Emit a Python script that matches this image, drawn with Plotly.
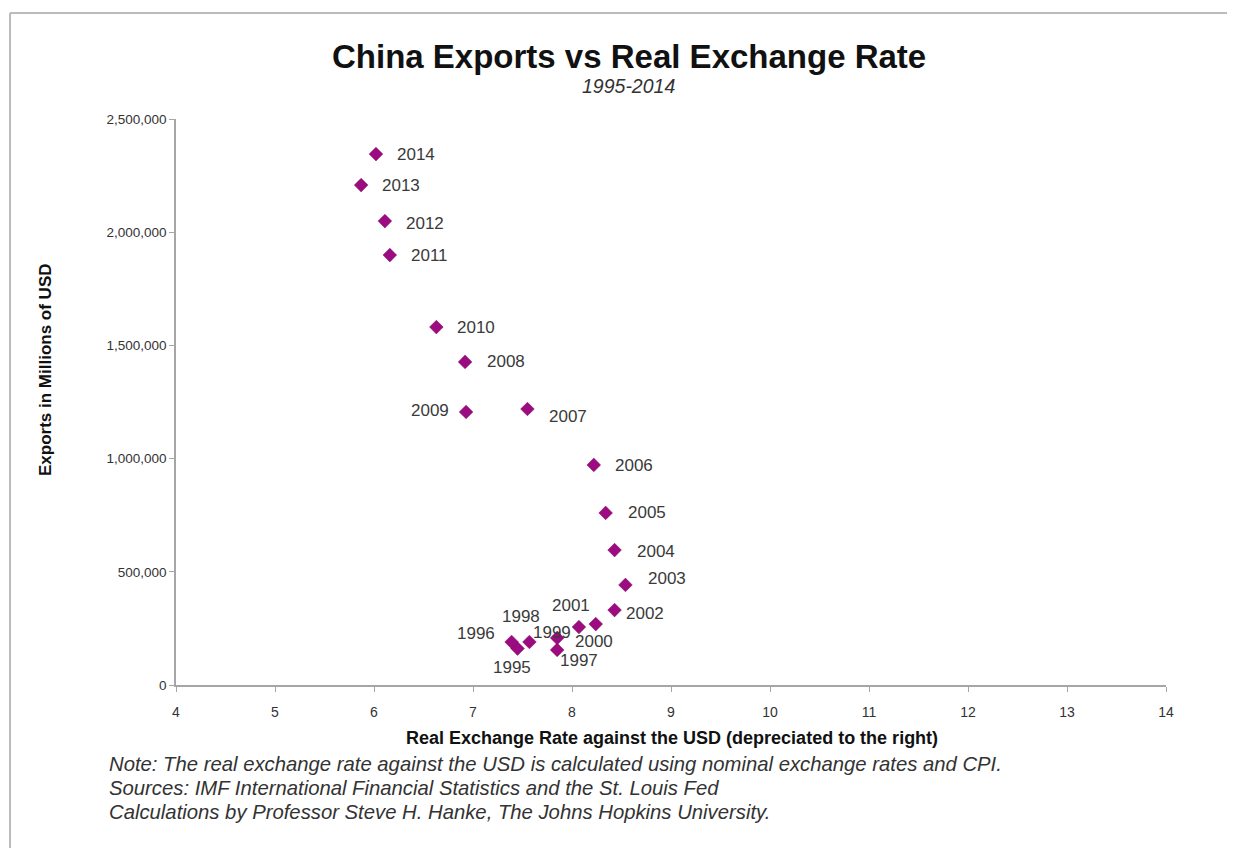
import plotly.graph_objects as go

years = ["1995", "1996", "1997", "1998", "1999", "2000", "2001", "2002", "2003", "2004",
         "2005", "2006", "2007", "2008", "2009", "2010", "2011", "2012", "2013", "2014"]
exchange_rate = [7.45, 7.39, 7.85, 7.57, 7.85, 8.24, 8.07, 8.43, 8.54, 8.43,
                 8.34, 8.22, 7.55, 6.92, 6.93, 6.63, 6.16, 6.11, 5.87, 6.02]
exports = [161000, 190000, 155000, 190000, 208000, 269000, 256000, 331000, 442000, 596000,
           760000, 972000, 1219000, 1427000, 1206000, 1581000, 1899000, 2049000, 2208000, 2345000]

# label offsets in pixels (xshift, yshift) relative to each point
label_offsets = [(-6, -19), (-36, 8), (22, -11), (-8, 25), (-5, 5), (-2, -17), (-8, 22), (30, -3), (42, 6), (41, -1),
                 (41, 0), (40, -1), (41, -7), (41, 0), (-36, 1), (40, 0), (40, 0), (40, -2), (40, 0), (40, 0)]

x_ticks = list(range(4, 15))
y_ticks = [0, 500000, 1000000, 1500000, 2000000, 2500000]
y_tick_labels = ["0", "500,000", "1,000,000", "1,500,000", "2,000,000", "2,500,000"]

title = "China Exports vs Real Exchange Rate"
subtitle = "1995-2014"
x_title = "Real Exchange Rate against the USD (depreciated to the right)"
y_title = "Exports in Millions of USD"
notes = [
    "Note: The real exchange rate against the USD is calculated using nominal exchange rates and CPI.",
    "Sources: IMF International Financial Statistics and the St. Louis Fed",
    "Calculations by Professor Steve H. Hanke, The Johns Hopkins University.",
]

FONT = "Liberation Sans, Arial, sans-serif"

# page offset (browser body margin)
OFF = 8
PL, PR, PT, PB = 176, 1166, 119, 685  # plot area in screen pixels
pw, ph = PR - PL, PB - PT

fig = go.Figure()
fig.add_trace(go.Scatter(
    x=exchange_rate, y=exports, mode="markers",
    marker=dict(symbol="diamond", size=10.5, color="#9c0c80",
                line=dict(color="#7a0763", width=0.5)),
    hoverinfo="x+y+text", text=years, showlegend=False,
))

for yr, xv, yv, (dx, dy) in zip(years, exchange_rate, exports, label_offsets):
    fig.add_annotation(x=xv, y=yv, xref="x", yref="y", text=yr, showarrow=False,
                       xshift=dx, yshift=dy, xanchor="center", yanchor="middle",
                       font=dict(family=FONT, size=17, color="#3a3a3a"))


def px_to_paper(px, py):
    return (px - PL) / pw, (PB - py) / ph


bx, by = px_to_paper(10, 13)
_, bb = px_to_paper(0, 848 + OFF + 5)
brx = (1235 + OFF + 5 - PL) / pw

fig.update_layout(
    width=1235, height=848,
    margin=dict(l=PL - OFF, r=1235 - (PR - OFF), t=PT - OFF, b=848 - (PB - OFF)),
    paper_bgcolor="white", plot_bgcolor="white",
    font=dict(family=FONT, size=13, color="#333333"),
    xaxis=dict(range=[4, 14], tickvals=x_ticks, showgrid=False, zeroline=False,
               showline=True, linecolor="#a6a6a6", linewidth=1.5,
               ticks="outside", tickcolor="#a6a6a6", ticklen=5, ticklabelstandoff=8,
               tickfont=dict(family=FONT, size=14, color="#333333")),
    yaxis=dict(range=[0, 2500000], tickvals=y_ticks, ticktext=y_tick_labels,
               showgrid=False, zeroline=False,
               showline=True, linecolor="#a6a6a6", linewidth=1.5,
               ticks="outside", tickcolor="#a6a6a6", ticklen=5,
               tickfont=dict(family=FONT, size=13.5, color="#333333")),
    shapes=[
        dict(type="line", xref="paper", yref="paper", x0=bx, x1=brx, y0=by, y1=by,
             line=dict(color="#bbbbbb", width=2)),
        dict(type="line", xref="paper", yref="paper", x0=bx, x1=bx, y0=by, y1=bb,
             line=dict(color="#bbbbbb", width=2)),
    ],
)


def add_text(px, py, text, size, color="#333333", xanchor="center", angle=0):
    x, y = px_to_paper(px, py)
    fig.add_annotation(x=x, y=y, xref="paper", yref="paper", text=text, showarrow=False,
                       xanchor=xanchor, yanchor="middle", textangle=angle,
                       font=dict(family=FONT, size=size, color=color))


add_text(629, 56, "<b>" + title + "</b>", 33, "#111111")
add_text(628, 86, "<i>" + subtitle + "</i>", 19.5)
add_text(672, 738, "<b>" + x_title + "</b>", 18, "#111111")
add_text(45, 370, "<b>" + y_title + "</b>", 17, "#111111", angle=-90)
for i, note in enumerate(notes):
    add_text(107, 764 + i * 24, "<i>" + note + "</i>", 20.3, xanchor="left")

fig.write_html("out.html")
